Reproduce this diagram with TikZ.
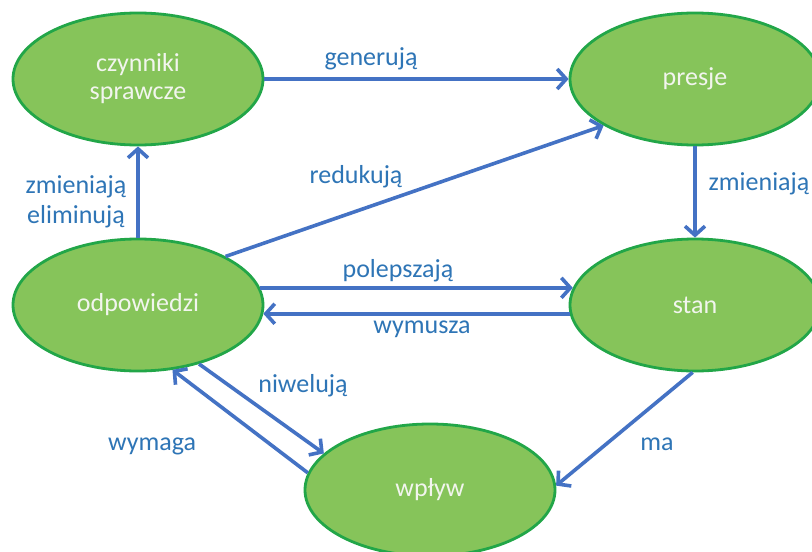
\documentclass[tikz,border=0pt]{standalone}
\usepackage{fontspec}
\setmainfont{Carlito}
\usetikzlibrary{shapes.geometric,arrows.meta}
\definecolor{nodegreen}{RGB}{134,196,90}
\definecolor{edgegreen}{RGB}{34,166,72}
\definecolor{arrowblue}{RGB}{68,114,196}
\definecolor{labelblue}{RGB}{46,117,182}
\definecolor{nodetext}{RGB}{242,245,238}
\begin{document}
\begin{tikzpicture}[x=1pt,y=-1pt,
  stnode/.style={ellipse, draw=edgegreen, line width=2.8pt, fill=nodegreen,
    minimum width=250pt, minimum height=132pt, inner sep=0pt,
    text=nodetext, font=\fontsize{26}{28}\selectfont, align=center},
  lab/.style={text=labelblue, font=\fontsize{26}{28}\selectfont, anchor=base, inner sep=0pt},
  ar/.style={draw=arrowblue, line width=3.6pt,
    -{Straight Barb[length=9pt,width=20pt]}}]
\useasboundingbox (0,0) rectangle (812,552);
\fill[white] (0,0) rectangle (812,552);
\node[stnode] (czy) at (138,79) {czynniki\\sprawcze};
\node[stnode] (pre) at (695,79) {presje};
\node[stnode] (odp) at (138,305) {odpowiedzi};
\node[stnode] (sta) at (695,305) {stan};
\node[stnode] (wpl) at (430,490) {wpływ};
\draw[ar] (czy.east) -- (pre.west);
\draw[ar] (pre.south) -- (sta.north);
\draw[ar] (odp.north) -- (czy.south);
\draw[ar] (odp.29) -- (pre.207);
\draw[ar] (odp.8) -- (sta.172);
\draw[ar] (sta.184.6) -- (odp.-4.6);
\draw[ar] (odp.-44) -- (wpl.161);
\draw[ar] (wpl.172) -- (odp.-62);
\draw[ar] (sta.-92) -- (wpl.2);
\node[lab] (lgen) at (371,65) {generują};
\node[lab] (lzmr) at (759,190) {zmieniają};
\node[lab] (lzml) at (76,193) {zmieniają};
\node[lab] (lel) at (76,223) {eliminują};
\node[lab] (lred) at (356,183) {redukują};
\node[lab] (lpol) at (398,277) {polepszają};
\node[lab] (lwym) at (422,333) {wymusza};
\node[lab] (lniw) at (303,392) {niwelują};
\node[lab] (lwmg) at (152,450) {wymaga};
\node[lab] (lma) at (657,450) {ma};
\end{tikzpicture}
\end{document}
